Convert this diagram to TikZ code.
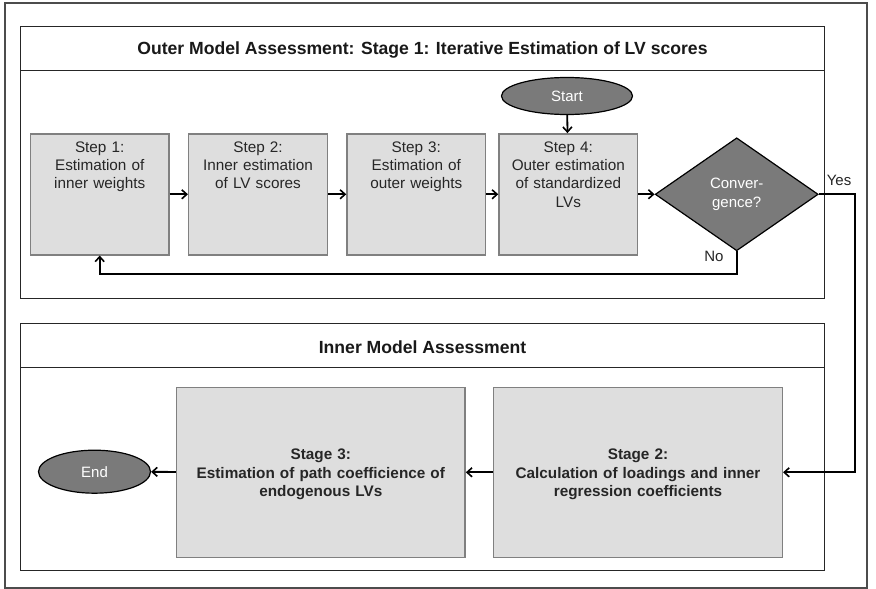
\documentclass[tikz,border=0pt]{standalone}
\usepackage{fontspec}
\setmainfont{Liberation Sans}
\usetikzlibrary{shapes.geometric,arrows.meta}
\begin{document}
\begin{tikzpicture}[x=1pt,y=-1pt,
  panel/.style={draw=black!85,line width=0.9pt},
  stepbox/.style={draw=black!50,fill=black!13,line width=1.4pt,minimum width=134pt,minimum height=121pt,
    text width=132pt,align=center,font=\fontsize{15.3}{18.3}\selectfont,text=black!85,
    text height=11pt,text depth=95pt},
  stagebox/.style={draw=black!50,fill=black!13,line width=1.4pt,minimum width=285pt,minimum height=170pt,
    text width=282pt,align=center,font=\bfseries\fontsize{15.3}{18.2}\selectfont,text=black!85,
    text height=15pt},
  term/.style={ellipse,draw=black,fill=black!52,line width=1.2pt,text=white,font=\fontsize{15}{16}\selectfont,inner sep=0pt},
  flow/.style={draw=black,line width=1.8pt,-{Straight Barb[length=5pt,width=9pt,line width=1.6pt]}},
  ttl/.style={font=\bfseries\fontsize{17.6}{20}\selectfont,text=black!90},
  lbl/.style={font=\fontsize{15}{16}\selectfont,text=black!85}]
\useasboundingbox (0,0) rectangle (876,589);
\fill[white] (0,0) rectangle (876,589);
% outer frame
\draw[draw=black!70,line width=1.1pt] (5,3) rectangle (867,588);
% stage 1 panel
\draw[panel] (20.7,26.7) rectangle (824.3,298.3);
\draw[panel] (20.7,70.3) -- (824.3,70.3);
\node[ttl] (t1) at (422.5,50) {Outer Model Assessment: Stage 1: Iterative Estimation of LV scores};
% inner model panel
\draw[panel] (20.7,323.3) rectangle (824.3,570);
\draw[panel] (20.7,367.7) -- (824.3,367.7);
\node[ttl] (t2) at (422.5,347) {Inner Model Assessment};
% steps
\node[stepbox] (s1) at (99.7,194.3) {Step 1:\\Estimation of\\inner weights};
\node[stepbox] (s2) at (258,194.3) {Step 2:\\Inner estimation\\of LV scores};
\node[stepbox] (s3) at (416.3,194.3) {Step 3:\\Estimation of\\outer weights};
\node[stepbox] (s4) at (568.3,194.3) {Step 4:\\Outer estimation\\of standardized\\LVs};
\node[term,minimum width=131pt,minimum height=37pt] (start) at (567,96) {Start};
\node[diamond,draw=black,fill=black!52,line width=1.2pt,minimum width=163pt,minimum height=113pt,
  aspect=1.44,inner sep=0pt,text=white,align=center,font=\fontsize{15}{19}\selectfont] (conv) at (736.7,194.3) {Conver-\\gence?};
% stages
\node[stagebox] (g3) at (320.8,472.3) {Stage 3:\\Estimation of path coefficience of\\endogenous LVs};
\node[stagebox] (g2) at (638,472.3) {Stage 2:\\Calculation of loadings and inner\\regression coefficients};
\node[term,minimum width=112pt,minimum height=43pt] (end) at (94.5,471.7) {End};
% connectors
\draw[flow] (start) -- (s4);
\draw[flow] (s1) -- (s2);
\draw[flow] (s2) -- (s3);
\draw[flow] (s3) -- (s4);
\draw[flow] (s4) -- (conv.west);
\coordinate (yesA) at (855,194.3);
\coordinate (yesB) at (855,472.3);
\draw[flow] (conv.east) -- (yesA) -- (yesB) -- (g2.east);
\coordinate (noA) at (736.7,274);
\coordinate (noB) at (99.7,274);
\draw[flow] (conv.south) -- (noA) -- (noB) -- (s1.south);
\draw[flow] (g2) -- (g3);
\draw[flow] (g3) -- (end);
\node[lbl] (yes) at (839,180) {Yes};
\node[lbl] (no) at (714,256) {No};
\end{tikzpicture}
\end{document}
